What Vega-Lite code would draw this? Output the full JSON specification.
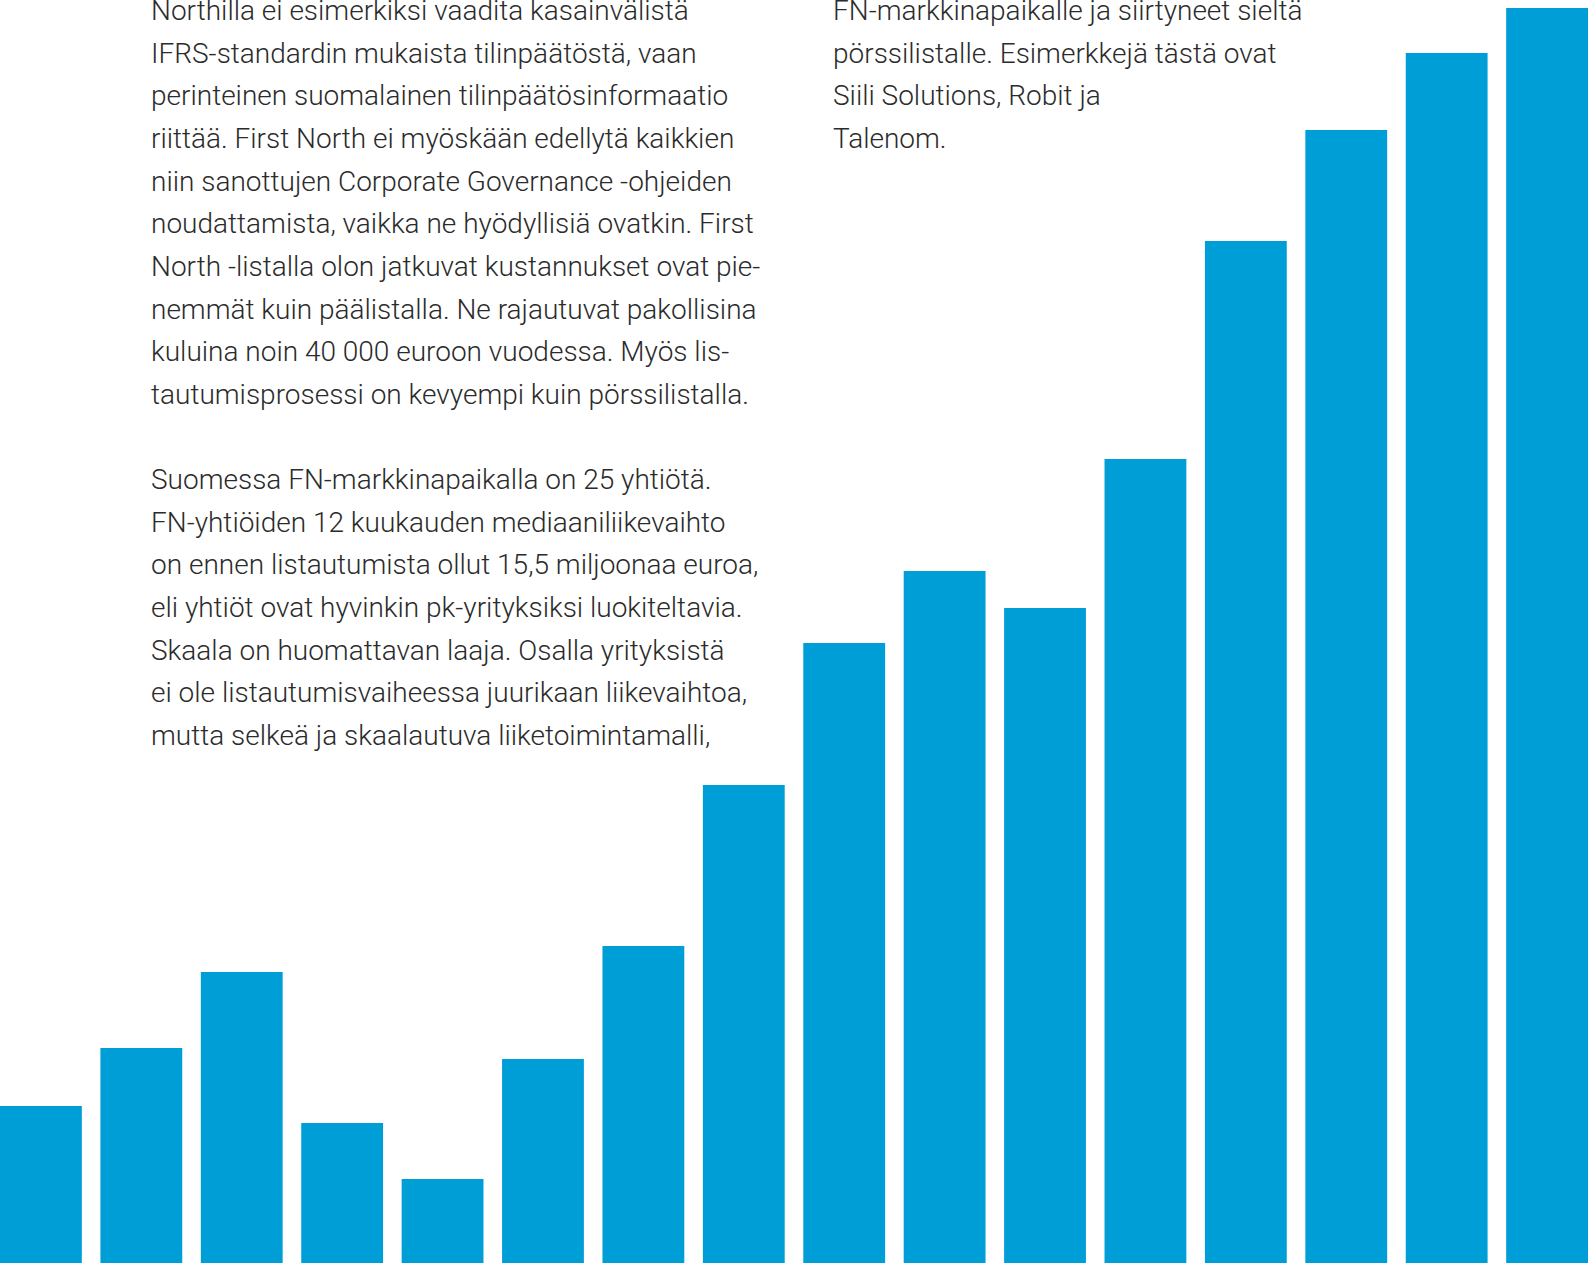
{
  "$schema": "https://vega.github.io/schema/vega-lite/v6.json",
  "width": 1588,
  "height": 1263,
  "autosize": {"type": "none"},
  "padding": 0,
  "background": "white",
  "config": {"view": {"stroke": null}},
  "layer": [
    {
      "data": {
        "values": [
          {"palkki": "1", "arvo": 157},
          {"palkki": "2", "arvo": 215},
          {"palkki": "3", "arvo": 291},
          {"palkki": "4", "arvo": 140},
          {"palkki": "5", "arvo": 84},
          {"palkki": "6", "arvo": 204},
          {"palkki": "7", "arvo": 317},
          {"palkki": "8", "arvo": 478},
          {"palkki": "9", "arvo": 620},
          {"palkki": "10", "arvo": 692},
          {"palkki": "11", "arvo": 655},
          {"palkki": "12", "arvo": 804},
          {"palkki": "13", "arvo": 1022},
          {"palkki": "14", "arvo": 1133},
          {"palkki": "15", "arvo": 1210},
          {"palkki": "16", "arvo": 1255}
        ]
      },
      "mark": {"type": "bar", "color": "#009ED6"},
      "encoding": {
        "x": {"field": "palkki", "type": "nominal", "sort": null, "axis": null,
              "scale": {"paddingInner": 0.185, "paddingOuter": 0}},
        "y": {"field": "arvo", "type": "quantitative", "axis": null,
              "scale": {"domain": [0, 1263], "nice": false, "zero": true}}
      }
    },
    {
      "data": {
        "values": [
          {"palsta": "vasen", "rivi": 1, "teksti": "Northilla ei esimerkiksi vaadita kasainvälistä"},
          {"palsta": "vasen", "rivi": 2, "teksti": "IFRS-standardin mukaista tilinpäätöstä, vaan"},
          {"palsta": "vasen", "rivi": 3, "teksti": "perinteinen suomalainen tilinpäätösinformaatio"},
          {"palsta": "vasen", "rivi": 4, "teksti": "riittää. First North ei myöskään edellytä kaikkien"},
          {"palsta": "vasen", "rivi": 5, "teksti": "niin sanottujen Corporate Governance -ohjeiden"},
          {"palsta": "vasen", "rivi": 6, "teksti": "noudattamista, vaikka ne hyödyllisiä ovatkin. First"},
          {"palsta": "vasen", "rivi": 7, "teksti": "North -listalla olon jatkuvat kustannukset ovat pie-"},
          {"palsta": "vasen", "rivi": 8, "teksti": "nemmät kuin päälistalla. Ne rajautuvat pakollisina"},
          {"palsta": "vasen", "rivi": 9, "teksti": "kuluina noin 40 000 euroon vuodessa. Myös lis-"},
          {"palsta": "vasen", "rivi": 10, "teksti": "tautumisprosessi on kevyempi kuin pörssilistalla."},
          {"palsta": "vasen", "rivi": 12, "teksti": "Suomessa FN-markkinapaikalla on 25 yhtiötä."},
          {"palsta": "vasen", "rivi": 13, "teksti": "FN-yhtiöiden 12 kuukauden mediaaniliikevaihto"},
          {"palsta": "vasen", "rivi": 14, "teksti": "on ennen listautumista ollut 15,5 miljoonaa euroa,"},
          {"palsta": "vasen", "rivi": 15, "teksti": "eli yhtiöt ovat hyvinkin pk-yrityksiksi luokiteltavia."},
          {"palsta": "vasen", "rivi": 16, "teksti": "Skaala on huomattavan laaja. Osalla yrityksistä"},
          {"palsta": "vasen", "rivi": 17, "teksti": "ei ole listautumisvaiheessa juurikaan liikevaihtoa,"},
          {"palsta": "vasen", "rivi": 18, "teksti": "mutta selkeä ja skaalautuva liiketoimintamalli,"},
          {"palsta": "oikea", "rivi": 1, "teksti": "FN-markkinapaikalle ja siirtyneet sieltä"},
          {"palsta": "oikea", "rivi": 2, "teksti": "pörssilistalle. Esimerkkejä tästä ovat"},
          {"palsta": "oikea", "rivi": 3, "teksti": "Siili Solutions, Robit ja"},
          {"palsta": "oikea", "rivi": 4, "teksti": "Talenom."}
        ]
      },
      "mark": {"type": "text", "align": "left", "baseline": "alphabetic",
               "font": "Roboto", "fontWeight": 300, "fontSize": 28, "color": "#2b2b2b"},
      "encoding": {
        "x": {"field": "palsta", "type": "nominal", "axis": null,
              "scale": {"type": "point", "domain": ["vasen", "oikea"], "range": [151, 833], "padding": 0}},
        "y": {"field": "rivi", "type": "quantitative", "axis": null,
              "scale": {"domain": [1, 18], "range": [20, 745], "nice": false, "zero": false}},
        "text": {"field": "teksti"}
      }
    }
  ],
  "resolve": {"scale": {"x": "independent", "y": "independent"}}
}
